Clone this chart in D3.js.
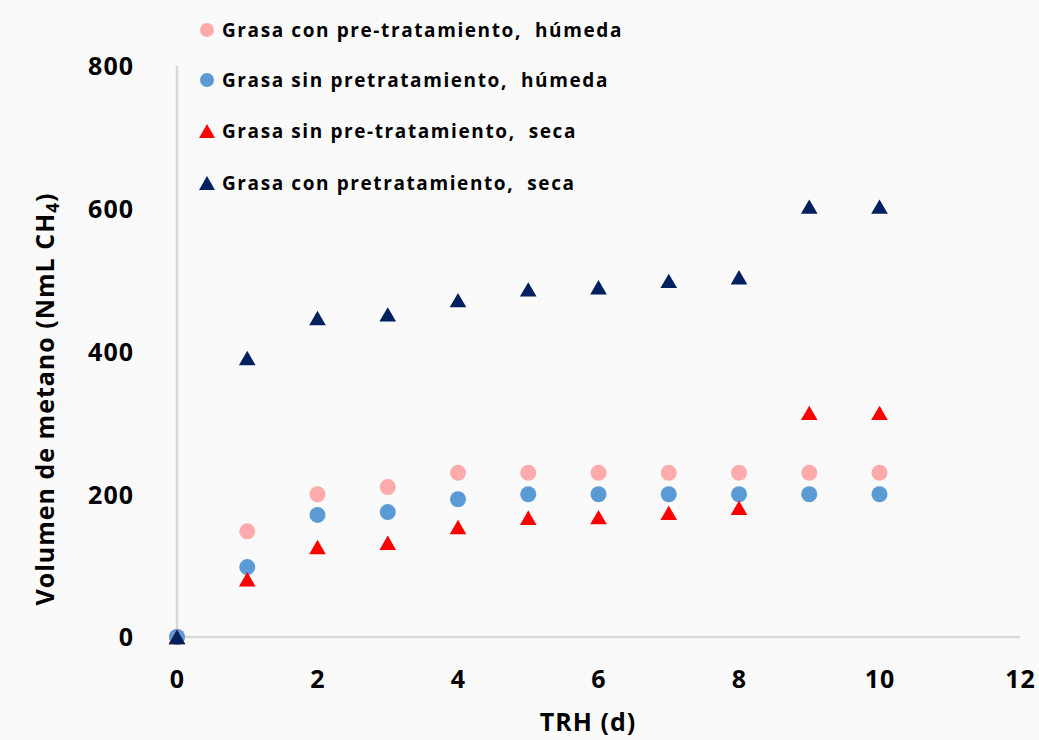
<!DOCTYPE html>
<html>
<head>
<meta charset="utf-8">
<script src="https://cdn.jsdelivr.net/npm/d3@7"></script>
<style>
  html, body { margin: 0; padding: 0; background: #fafafa; }
  svg { display: block; }
  text { font-family: "Open Sans", Lato, sans-serif; font-weight: bold; fill: #000; }
</style>
</head>
<body>
<svg id="chart" width="1039" height="740"></svg>
<script>
// Hydraulic retention time (days)
const days = [0, 1, 2, 3, 4, 5, 6, 7, 8, 9, 10];

// Methane volume (NmL CH4) per series
const conPreHumeda = [0, 148, 200, 210, 230, 230, 230, 230, 230, 230, 230];
const sinPreHumeda = [0, 98, 171, 175, 193, 200, 200, 200, 200, 200, 200];
const sinPreSeca   = [0, 81, 126, 132, 154, 167, 168, 174, 181, 314, 314];
const conPreSeca   = [0, 391, 447, 452, 472, 487, 490, 499, 504, 603, 603];

const xTicks = [0, 2, 4, 6, 8, 10, 12];
const yTicks = [0, 200, 400, 600, 800];

const seriesNames = [
  "Grasa con pre-tratamiento,  húmeda",
  "Grasa sin pretratamiento,  húmeda",
  "Grasa sin pre-tratamiento,  seca",
  "Grasa con pretratamiento,  seca"
];
const seriesColors = ["#ffabab", "#5b9bd5", "#ff0000", "#002060"];
const seriesShapes = ["circle", "circle", "triangle", "triangle"];
const seriesValues = [conPreHumeda, sinPreHumeda, sinPreSeca, conPreSeca];

const svg = d3.select("#chart");

const x = d3.scaleLinear().domain([0, 12]).range([177, 1020]);
const y = d3.scaleLinear().domain([0, 800]).range([637, 66]);

// Axis lines
svg.append("line")
  .attr("x1", x(0)).attr("x2", x(0))
  .attr("y1", y(800)).attr("y2", y(0))
  .attr("stroke", "#d9d9d9").attr("stroke-width", 2.5);
svg.append("line")
  .attr("x1", x(0)).attr("x2", x(12))
  .attr("y1", y(0)).attr("y2", y(0))
  .attr("stroke", "#d9d9d9").attr("stroke-width", 2.5);

// Tick labels
function styleTicks(sel) {
  sel.selectAll("text")
    .style("font-size", "25px")
    .style("font-family", "'Open Sans', Lato, sans-serif")
    .style("font-weight", "bold")
    .style("letter-spacing", "1px")
    .attr("fill", "#000");
}

const xAxis = d3.axisBottom(x).tickValues(xTicks).tickSize(0).tickPadding(0);
const gx = svg.append("g").attr("transform", `translate(0, ${y(0)})`).call(xAxis);
gx.select(".domain").remove();
styleTicks(gx);
gx.selectAll("text").attr("y", 42).attr("dy", "0.35em");

const yAxis = d3.axisLeft(y).tickValues(yTicks).tickSize(0).tickPadding(0);
const gy = svg.append("g").attr("transform", `translate(${x(0)}, 0)`).call(yAxis);
gy.select(".domain").remove();
styleTicks(gy);
gy.selectAll("text").attr("x", -43).attr("dy", "0.35em");

// Axis titles
svg.append("text")
  .attr("x", 588).attr("y", 731)
  .attr("text-anchor", "middle")
  .style("font-size", "25px")
  .style("letter-spacing", "1px")
  .text("TRH (d)");

const yTitle = svg.append("text")
  .attr("transform", "translate(54, 399) rotate(-90)")
  .attr("text-anchor", "middle")
  .style("font-size", "25px")
  .style("letter-spacing", "1px");
yTitle.append("tspan").text("Volumen de metano (NmL CH");
yTitle.append("tspan").attr("dy", 5).style("font-size", "17px").text("4");
yTitle.append("tspan").attr("dy", -5).text(")");

// Markers
const circleSym = d3.symbol().type(d3.symbolCircle).size(Math.PI * 8 * 8);
const triSize = 120;
const triSym = d3.symbol().type(d3.symbolTriangle).size(triSize);

// d3's triangle is centred on its centroid; shift so its bounding box is centred
function triShift(size) {
  const side = Math.sqrt(size / (Math.sqrt(3) / 4));
  const h = side * Math.sqrt(3) / 2;
  return h / 2 - h / 3;
}

seriesValues.forEach((vals, i) => {
  const shape = seriesShapes[i];
  const dy = shape === "triangle" ? triShift(triSize) : 0;
  svg.append("g").selectAll("path")
    .data(days.map((d, j) => ({ d, v: vals[j] })))
    .join("path")
    .attr("d", shape === "circle" ? circleSym() : triSym())
    .attr("transform", p => `translate(${x(p.d)}, ${y(p.v) + dy})`)
    .attr("fill", seriesColors[i]);
});

// Legend
const legendY = [30, 80, 131, 183];
seriesNames.forEach((name, i) => {
  const g = svg.append("g").attr("transform", `translate(207, ${legendY[i]})`);
  if (seriesShapes[i] === "circle") {
    g.append("path").attr("d", d3.symbol().type(d3.symbolCircle).size(Math.PI * 7 * 7)()).attr("fill", seriesColors[i]);
  } else {
    g.append("path").attr("d", d3.symbol().type(d3.symbolTriangle).size(110)())
      .attr("transform", `translate(0, ${triShift(110)})`)
      .attr("fill", seriesColors[i]);
  }
  g.append("text")
    .attr("x", 15).attr("dy", "0.35em")
    .style("font-size", "19px")
    .style("letter-spacing", "1.6px")
    .style("white-space", "pre")
    .text(name);
});
</script>
</body>
</html>
